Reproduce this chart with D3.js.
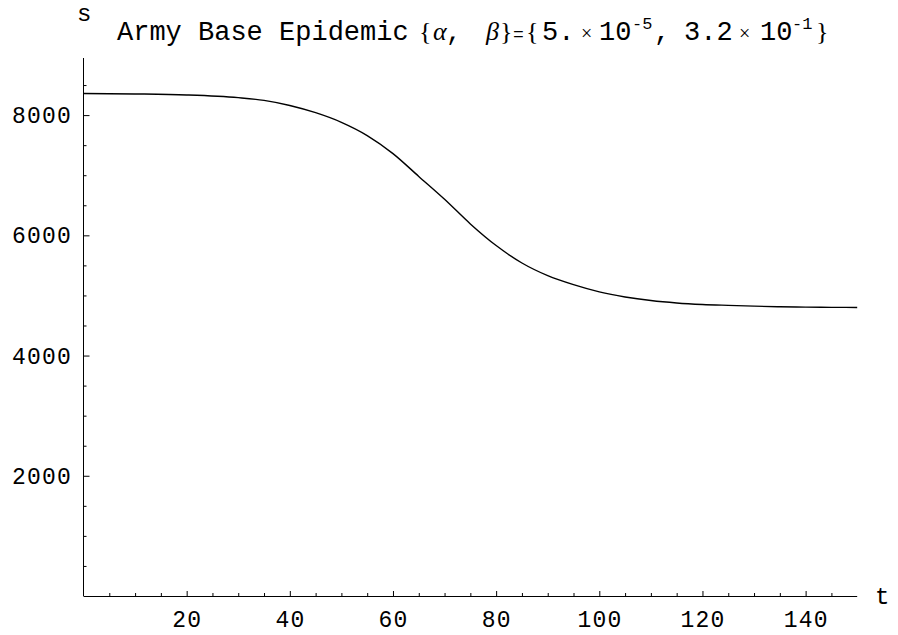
<!DOCTYPE html>
<html>
<head>
<meta charset="utf-8">
<script src="https://cdn.jsdelivr.net/npm/d3@7"></script>
<style>
  body { margin: 0; background: #fff; }
  .lbl { font-family: "Liberation Mono", "Courier New", monospace; fill: #000; }
  .ser { font-family: "Liberation Serif", "Times New Roman", serif; }
</style>
</head>
<body>
<div id="chart"></div>
<script>
// susceptible count s(t)
var tValues = [0, 10, 20, 30, 35, 40, 45, 50, 55, 60, 65, 70, 75, 80, 85, 90, 95, 100, 105, 110, 115, 120, 125, 130, 135, 140, 145, 150];
var sValues = [8360, 8352, 8335, 8290, 8245, 8160, 8040, 7880, 7660, 7360, 6980, 6600, 6190, 5830, 5540, 5330, 5180, 5060, 4975, 4915, 4875, 4850, 4835, 4822, 4812, 4806, 4802, 4800];

var xTicks = [20, 40, 60, 80, 100, 120, 140];
var yTicks = [2000, 4000, 6000, 8000];

var width = 898, height = 635;

var svg = d3.select("#chart")
  .append("svg")
    .attr("width", width)
    .attr("height", height);

var x = d3.scaleLinear().domain([0, 150]).range([83.5, 857.2]);
var y = d3.scaleLinear().domain([0, 8950]).range([596, 58]);

// minor ticks every 5 on t, every 500 on s
var xMinor = d3.range(5, 150, 5).filter(function(d) { return d % 20 != 0; });
var yMinor = d3.range(500, 9000, 500).filter(function(d) { return d % 2000 != 0; });

// X axis (ticks pointing up, inside)
var gx = svg.append("g").attr("transform", "translate(0," + y(0) + ")");
gx.call(d3.axisTop(x).tickValues(xTicks).tickSize(5).tickFormat(""));
gx.select(".domain").remove();
var gxm = svg.append("g").attr("transform", "translate(0," + y(0) + ")");
gxm.call(d3.axisTop(x).tickValues(xMinor).tickSize(3).tickFormat(""));
gxm.select(".domain").remove();
svg.append("line")
  .attr("x1", x(0)).attr("x2", x(150))
  .attr("y1", y(0) + 0.5).attr("y2", y(0) + 0.5)
  .attr("stroke", "#000");

// Y axis (ticks pointing right)
var gy = svg.append("g").attr("transform", "translate(" + x(0) + ",0)");
gy.call(d3.axisRight(y).tickValues(yTicks).tickSize(6).tickFormat(""));
gy.select(".domain").remove();
var gym = svg.append("g").attr("transform", "translate(" + x(0) + ",0)");
gym.call(d3.axisRight(y).tickValues(yMinor).tickSize(3).tickFormat(""));
gym.select(".domain").remove();
svg.append("line")
  .attr("x1", x(0)).attr("x2", x(0))
  .attr("y1", y(0)).attr("y2", y(8950))
  .attr("stroke", "#000");

svg.selectAll(".tick line").attr("stroke", "#000");

// tick labels
svg.selectAll(".xlab")
  .data(xTicks)
  .enter()
  .append("text")
    .attr("class", "lbl")
    .attr("x", function(d) { return x(d) + 0.6; })
    .attr("y", 627)
    .attr("text-anchor", "middle")
    .style("font-size", "23px")
    .style("letter-spacing", "1.2px")
    .text(function(d) { return d; });

svg.selectAll(".ylab")
  .data(yTicks)
  .enter()
  .append("text")
    .attr("class", "lbl")
    .attr("x", 72)
    .attr("y", function(d) { return y(d) + 8; })
    .attr("text-anchor", "end")
    .style("font-size", "23px")
    .style("letter-spacing", "1.2px")
    .text(function(d) { return d; });

// axis names
svg.append("text").attr("class", "lbl").attr("x", 77).attr("y", 21)
  .style("font-size", "24px").text("s");
svg.append("text").attr("class", "lbl").attr("x", 875).attr("y", 604)
  .style("font-size", "24px").text("t");

// the curve
var line = d3.line()
  .x(function(d, i) { return x(tValues[i]); })
  .y(function(d) { return y(d); })
  .curve(d3.curveMonotoneX);

svg.append("path")
  .datum(sValues)
  .attr("fill", "none")
  .attr("stroke", "#000")
  .attr("stroke-width", 1.4)
  .attr("d", line);

// Plot title, pieces placed along the baseline
var titleParts = [
  {t: "Army Base Epidemic", x: 117, cls: "lbl", size: 27},
  {t: "{", x: 419, cls: "lbl ser", size: 26},
  {t: "α", x: 433, cls: "lbl ser", size: 26, it: true},
  {t: ",", x: 446, cls: "lbl", size: 26},
  {t: "β", x: 486, cls: "lbl ser", size: 26, it: true},
  {t: "}", x: 500, cls: "lbl ser", size: 26},
  {t: "=", x: 513, cls: "lbl", size: 18},
  {t: "{", x: 526, cls: "lbl ser", size: 26},
  {t: "5.", x: 542, cls: "lbl", size: 27},
  {t: "×", x: 581, cls: "lbl ser", size: 20},
  {t: "10", x: 599, cls: "lbl", size: 27},
  {t: "-5", x: 632, cls: "lbl", size: 17, up: 11},
  {t: ",", x: 654, cls: "lbl", size: 27},
  {t: "3.2", x: 684, cls: "lbl", size: 27},
  {t: "×", x: 739, cls: "lbl ser", size: 20},
  {t: "10", x: 760, cls: "lbl", size: 27},
  {t: "-1", x: 792, cls: "lbl", size: 17, up: 11},
  {t: "}", x: 816, cls: "lbl ser", size: 26}
];
svg.selectAll(".tpart")
  .data(titleParts)
  .enter()
  .append("text")
    .attr("class", function(d) { return d.cls; })
    .attr("x", function(d) { return d.x; })
    .attr("y", function(d) { return 40 - (d.up || 0); })
    .style("font-size", function(d) { return d.size + "px"; })
    .style("font-style", function(d) { return d.it ? "italic" : "normal"; })
    .text(function(d) { return d.t; });
</script>
</body>
</html>
